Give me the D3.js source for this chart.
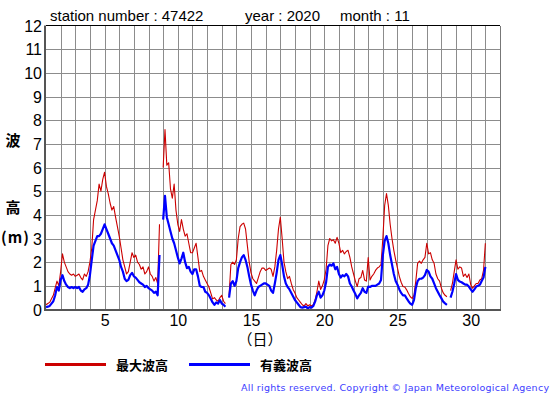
<!DOCTYPE html>
<html lang="ja">
<head>
<meta charset="UTF-8">
<title>波高 47422 2020/11</title>
<script src="https://cdn.jsdelivr.net/npm/d3@7"></script>
<style>
  body { margin: 0; background: #fff; }
  svg { display: block; }
  .tick text { font-family: "Liberation Sans", Arial, sans-serif; font-size: 16px; fill: #000; }
</style>
</head>
<body>
<svg id="chart" width="555" height="395"></svg>
<script>
// 3-hourly values, day 1 00h .. day 31 00h (null = missing)
const maxWave = [
  0.2, 0.25, 0.3, 0.45, 0.6, 0.9, 1.2, 1.0,
  1.6, 2.35, 2.0, 1.8, 1.6, 1.5, 1.45, 1.5,
  1.4, 1.45, 1.5, 1.35, 1.25, 1.5, 1.4, 1.6,
  2.0, 2.6, 3.8, 4.2, 4.6, 5.3, 5.0, 5.5,
  5.8, 5.2, 4.9, 4.5, 4.2, 4.35, 3.9, 3.5,
  3.1, 2.6, 2.1, 1.8, 1.5, 1.6, 2.0, 2.4,
  2.2, 2.3, 2.0, 1.9, 1.7, 1.8, 1.5, 1.6,
  1.8, 1.5, 1.4, 1.2, 1.35, 1.1, 3.6, null,
  6.0, 7.6, 6.1, 6.2, 5.1, 4.7, 5.3, 4.2,
  3.6, 3.3, 3.8, 3.4, 3.1, 3.2, 2.8, 2.4,
  2.4, 2.6, 2.8, 2.2, 1.6, 1.65, 1.4, 1.25,
  1.1, 0.95, 0.7, 0.45, 0.5, 0.4, 0.35, 0.5,
  0.6, 0.35, 0.25, null, 0.6, 1.9, 2.0, 1.9,
  2.1, 3.0, 3.5, 3.6, 3.65, 3.4, 2.7, 2.0,
  1.55, 1.3, 1.2, 1.1, 1.35, 1.6, 1.75, 1.75,
  1.65, 1.7, 1.75, 1.7, 1.4, 1.8, 2.5, 3.4,
  3.9, 3.0, 2.0, 1.6, 1.3, 1.4, 1.1, 0.85,
  0.7, 0.5, 0.4, 0.3, 0.2, 0.15, 0.25, 0.15,
  0.2, 0.15, 0.2, 0.4, 0.75, 1.2, 0.85, 1.0,
  1.25, 1.7, 2.7, 3.0, 2.9, 2.95, 2.8, 3.05,
  2.8, 2.4, 2.5, 2.35, 2.45, 2.5, 2.2, 1.8,
  1.5, 1.2, 0.97, 1.3, 1.35, 1.65, 1.25, 1.2,
  2.2, 1.25, 1.4, 1.5, 1.65, 1.75, 1.8, 1.9,
  3.0, 4.4, 4.9, 4.4, 3.6, 3.0, 2.5, 2.1,
  1.75, 1.4, 1.15, 0.97, 0.95, 0.83, 0.68, 0.54,
  0.47, 0.6, 1.2, 1.95, 2.05, 1.95, 2.1, 2.2,
  2.8, 2.35, 2.4, 2.1, 1.95, 1.5, 1.3, 1.2,
  0.9, 0.7, 0.6, 0.54, null, 0.8, 1.1, 1.6,
  2.1, 1.7, 1.8, 1.75, 1.4, 1.5, 1.35, 1.5,
  1.05, 0.9, 1.0, 1.1, 1.1, 1.25, 1.3, 1.65,
  2.8
];

const sigWave = [
  0.1, 0.12, 0.15, 0.25, 0.35, 0.6, 0.95, 0.8,
  1.25, 1.45, 1.2, 1.05, 0.95, 0.9, 0.95, 0.9,
  0.95, 0.9, 0.95, 0.8, 0.75, 0.85, 0.9, 1.05,
  1.45, 2.1, 2.7, 2.9, 3.1, 3.1, 3.2, 3.4,
  3.6, 3.4, 3.2, 3.0, 2.8, 2.7, 2.5, 2.3,
  2.1, 1.8, 1.6, 1.3, 1.2, 1.25, 1.45, 1.55,
  1.4, 1.35, 1.25, 1.15, 1.1, 1.05, 0.95, 1.0,
  0.9, 0.85, 0.8, 0.7, 0.75, 0.6, 2.3, null,
  3.8, 4.8, 3.9, 3.6, 3.3, 3.0, 2.8, 2.5,
  2.2, 1.95, 2.15, 2.4, 2.0, 1.75, 1.8, 1.6,
  1.5, 1.7, 1.7, 1.4, 1.0, 0.95, 0.95, 0.75,
  0.7, 0.6, 0.45, 0.3, 0.2, 0.3, 0.25, 0.4,
  0.25, 0.2, 0.12, null, 0.5, 1.1, 1.2, 1.0,
  1.2, 1.75, 2.0, 2.2, 2.3, 2.1, 1.8, 1.4,
  1.05, 0.8, 0.6, 0.8, 0.95, 1.0, 1.05, 1.1,
  1.1, 1.05, 1.0, 0.8, 0.7, 1.1, 1.55, 2.1,
  2.3, 1.9, 1.4, 1.1, 0.95, 0.85, 0.7, 0.55,
  0.4, 0.3, 0.2, 0.1, 0.08, 0.1, 0.12, 0.05,
  0.1, 0.08, 0.15, 0.33, 0.6, 0.75, 0.5, 0.6,
  0.8, 1.15, 1.8, 1.9, 1.85, 1.95, 1.7, 1.8,
  1.5, 1.35, 1.45, 1.4, 1.5, 1.4, 1.1, 0.97,
  0.8, 0.65, 0.47, 0.6, 0.7, 0.9, 0.75, 0.7,
  0.97, 0.95, 1.0, 1.0, 1.0, 1.05, 1.1, 1.25,
  2.3, 2.9, 3.1, 2.8, 2.3, 1.9, 1.5, 1.2,
  1.05, 0.85, 0.7, 0.6, 0.6, 0.47, 0.35, 0.25,
  0.2, 0.4, 0.9, 1.2, 1.3, 1.3, 1.35, 1.45,
  1.67, 1.6, 1.4, 1.3, 1.1, 0.9, 0.75, 0.6,
  0.47, 0.33, 0.26, 0.2, null, 0.5, 0.75, 1.1,
  1.5, 1.25, 1.18, 1.15, 1.1, 1.05, 1.05, 0.97,
  0.85, 0.75, 0.85, 0.97, 1.0, 1.05, 1.2, 1.35,
  1.8
];

const dayTicks = [5, 10, 15, 20, 25, 30];
const heightTicks = d3.range(0, 13);
const legendNames = ["最大波高", "有義波高"];
const colors = ["#cc0000", "#0000ff"];

const svg = d3.select("#chart");
const plotL = 46, plotR = 500, plotT = 25.5, plotB = 309.5;

const x = d3.scaleLinear().domain([1, 32]).range([plotL, plotR]);
const y = d3.scaleLinear().domain([0, 12]).range([plotB, plotT]);

svg.append("rect").attr("width", 555).attr("height", 395).attr("fill", "#fff");

// grid
const grid = svg.append("g").attr("shape-rendering", "crispEdges");
grid.selectAll(".vg").data(d3.range(2, 32)).join("line")
  .attr("x1", d => Math.round(x(d)) + 0.5).attr("x2", d => Math.round(x(d)) + 0.5)
  .attr("y1", plotT).attr("y2", plotB)
  .attr("stroke", "#8c8c8c");
grid.selectAll(".hg").data(d3.range(1, 12)).join("line")
  .attr("x1", plotL).attr("x2", plotR)
  .attr("y1", d => Math.round(y(d)) + 0.5).attr("y2", d => Math.round(y(d)) + 0.5)
  .attr("stroke", "#8c8c8c");

// frame
grid.append("line").attr("x1", plotL).attr("x2", plotR).attr("y1", 25.5).attr("y2", 25.5).attr("stroke", "#000");
grid.append("line").attr("x1", plotR + 0.5).attr("x2", plotR + 0.5).attr("y1", plotT).attr("y2", plotB).attr("stroke", "#777");

// lines
svg.append("clipPath").attr("id", "plot").append("rect")
  .attr("x", plotL).attr("y", plotT).attr("width", plotR - plotL).attr("height", plotB - plotT);

const line = d3.line()
  .defined(d => d != null)
  .x((d, i) => x(1 + i / 8))
  .y(d => y(d));

const plot = svg.append("g").attr("clip-path", "url(#plot)");
plot.append("path").datum(maxWave)
  .attr("d", line).attr("fill", "none")
  .attr("stroke", colors[0]).attr("stroke-width", 1.1).attr("stroke-linejoin", "round");
plot.append("path").datum(sigWave)
  .attr("d", line).attr("fill", "none")
  .attr("stroke", colors[1]).attr("stroke-width", 2.2).attr("stroke-linejoin", "round");

// axes lines (thick)
svg.append("line").attr("x1", plotL - 1).attr("x2", plotL - 1).attr("y1", plotT).attr("y2", plotB + 1)
  .attr("stroke", "#555").attr("stroke-width", 2);
svg.append("line").attr("x1", plotL - 2).attr("x2", plotR + 1).attr("y1", plotB + 0.5).attr("y2", plotB + 0.5)
  .attr("stroke", "#555").attr("stroke-width", 2);

// tick labels
const xAxis = svg.append("g").attr("transform", `translate(0,${plotB})`)
  .call(d3.axisBottom(x).tickValues(dayTicks).tickSize(0).tickPadding(5));
xAxis.select(".domain").remove();

const yAxis = svg.append("g").attr("transform", `translate(${plotL - 3},0)`)
  .call(d3.axisLeft(y).tickValues(heightTicks).tickSize(0).tickPadding(1));
yAxis.select(".domain").remove();
yAxis.selectAll("text").attr("dy", "0.36em");

// title
const titleFont = "'Liberation Sans', Arial, sans-serif";
const title = svg.append("g").attr("font-family", titleFont).attr("font-size", 15);
title.append("text").attr("x", 50).attr("y", 21).text("station number : 47422");
title.append("text").attr("x", 245).attr("y", 21).text("year : 2020");
title.append("text").attr("x", 340).attr("y", 21).text("month : 11");

// axis titles
const jp = "'Noto Sans CJK JP', 'Noto Sans CJK SC', sans-serif";
const yTitle = svg.append("g").attr("font-family", jp).attr("font-weight", "bold").attr("font-size", 15);
yTitle.append("text").attr("x", 13).attr("y", 146).attr("text-anchor", "middle").text("波");
yTitle.append("text").attr("x", 13).attr("y", 213).attr("text-anchor", "middle").text("高");
yTitle.append("text").attr("x", 1).attr("y", 243).attr("letter-spacing", 1).text("(m)");

svg.append("text").attr("x", 260).attr("y", 345).attr("text-anchor", "middle")
  .attr("font-family", jp).attr("font-size", 15).text("（日）");

// legend
const legend = svg.append("g");
legendNames.forEach((name, i) => {
  const lx = [45, 189][i];
  legend.append("line").attr("x1", lx).attr("x2", lx + 61)
    .attr("y1", 364.5).attr("y2", 364.5)
    .attr("stroke", colors[i]).attr("stroke-width", 3);
  legend.append("text").attr("x", lx + 71).attr("y", 370)
    .attr("font-family", jp).attr("font-weight", "bold").attr("font-size", 13)
    .text(name);
});

// copyright
svg.append("text").attr("x", 241).attr("y", 391)
  .attr("font-family", "'DejaVu Sans', sans-serif").attr("font-size", 9.5)
  .attr("fill", "#3c3cff")
  .attr("textLength", 308).attr("lengthAdjust", "spacing")
  .text("All rights reserved. Copyright © Japan Meteorological Agency");
</script>
</body>
</html>
